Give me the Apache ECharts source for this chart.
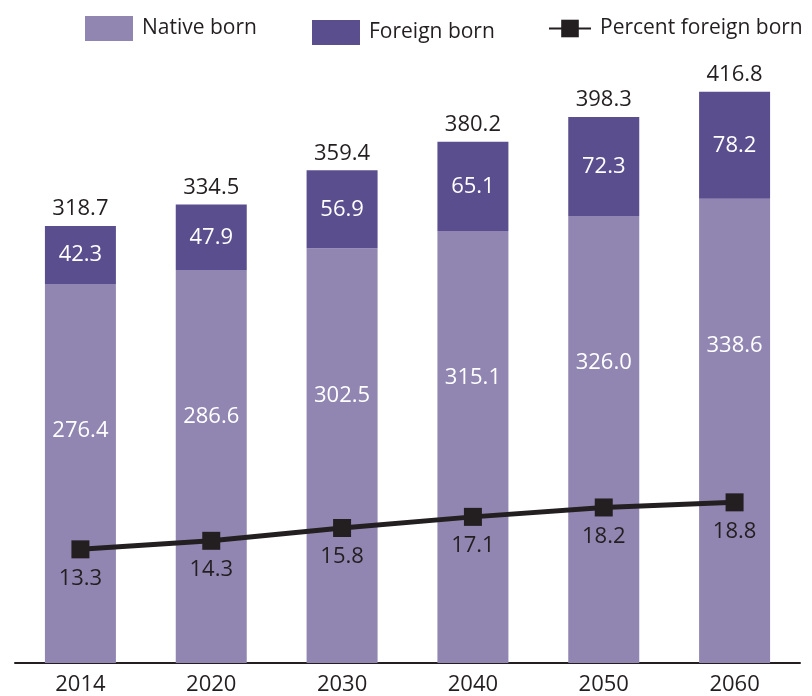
<!DOCTYPE html>
<html><head><meta charset="utf-8">
<script src="https://cdn.jsdelivr.net/npm/echarts@6/dist/echarts.min.js"></script>
<style>html,body{margin:0;padding:0;background:#fff}#c{width:812px;height:696px}</style>
</head><body><div id="c"></div>
<script>
const years = ['2014','2020','2030','2040','2050','2060'];
const nativeBorn = [276.4, 286.6, 302.5, 315.1, 326.0, 338.6];
const foreignBorn = [42.3, 47.9, 56.9, 65.1, 72.3, 78.2];
const totals = [318.7, 334.5, 359.4, 380.2, 398.3, 416.8];
const percentForeign = [13.3, 14.3, 15.8, 17.1, 18.2, 18.8];
const zeros = [0,0,0,0,0,0];

const FONT = 'Open Sans';
const chart = echarts.init(document.getElementById('c'));
const legendText = {fontFamily: FONT, fontSize: 21, color: '#231f20', padding: [0,0,0,4]};
const numFont = {fontFamily: FONT, fontSize: 22};
chart.setOption({
  animation: false,
  legend: [
    {data: ['Native born'], left: 80, top: 11, itemWidth: 48, itemHeight: 25, itemGap: 0, textStyle: legendText, icon: 'rect'},
    {data: ['Foreign born'], left: 307, top: 15, itemWidth: 48, itemHeight: 25, itemGap: 0, textStyle: legendText, icon: 'rect'},
    {data: ['Percent foreign born'], left: 543, top: 13, itemWidth: 42, itemHeight: 22, itemGap: 0, textStyle: legendText}
  ],
  grid: {left: 15, right: 12, top: 5, bottom: 33},
  xAxis: {
    type: 'category', data: years,
    axisLine: {lineStyle: {color: '#231f20', width: 2}},
    axisTick: {show: false},
    axisLabel: Object.assign({color: '#231f20', margin: 11}, numFont)
  },
  yAxis: [
    {type: 'value', min: 0, max: 480, show: false, splitLine: {show: false}},
    {type: 'value', min: 0, max: 77, show: false, splitLine: {show: false}}
  ],
  series: [
    {name: 'Native born', type: 'bar', stack: 'pop', data: nativeBorn, barWidth: 71,
     itemStyle: {color: '#9186b2'},
     label: Object.assign({show: true, position: 'insideTop', distance: 136, color: '#fff',
       formatter: p => p.value.toFixed(1)}, numFont)},
    {name: 'Foreign born', type: 'bar', stack: 'pop', data: foreignBorn, barWidth: 71,
     itemStyle: {color: '#5b4e8e'},
     label: Object.assign({show: true, position: 'inside', color: '#fff',
       formatter: p => p.value.toFixed(1)}, numFont)},
    {name: 'Total', type: 'bar', stack: 'pop', data: zeros, barWidth: 71,
     itemStyle: {color: 'transparent'},
     label: Object.assign({show: true, position: 'top', distance: 6, color: '#231f20',
       formatter: p => totals[p.dataIndex].toFixed(1)}, numFont)},
    {name: 'Percent foreign born', type: 'line', yAxisIndex: 1, data: percentForeign,
     symbol: 'rect', symbolSize: 18,
     lineStyle: {color: '#231f20', width: 5}, itemStyle: {color: '#231f20'},
     label: Object.assign({show: true, position: 'bottom', distance: 9, color: '#231f20',
       formatter: p => p.value.toFixed(1)}, numFont)}
  ]
});
</script></body></html>
